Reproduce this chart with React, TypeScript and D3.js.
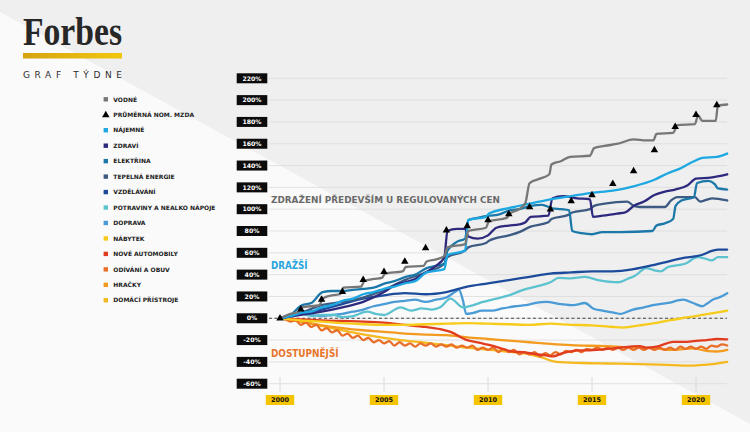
import * as d3 from "d3";

type Pt = [number, number];

// axis ticks
const yTicks = [220, 200, 180, 160, 140, 120, 100, 80, 60, 40, 20, 0, -20, -40, -60];
const xTicks = [2000, 2005, 2010, 2015, 2020];

// average nominal wage (triangles), yearly
const wageYears = [2000, 2001, 2002, 2003, 2004, 2005, 2006, 2007, 2008, 2009, 2010, 2011, 2012, 2013, 2014, 2015, 2016, 2017, 2018, 2019, 2020, 2021];
const wageValues = [0, 8.1, 17.1, 24.2, 35.2, 42.5, 51.9, 64.3, 80.6, 84.5, 90, 95.5, 101.9, 99.8, 107.4, 112.9, 123.3, 135, 154.2, 175.6, 186.6, 195.5];

// price indices, % change vs 2000
const vodne: Pt[] = [
  [2000, 0], [2000.5, 4], [2000.9, 6], [2001.05, 10], [2001.9, 12], [2002.05, 18], [2002.5, 21], [2002.9, 22],
  [2003.05, 28], [2003.9, 29], [2004.05, 34], [2004.5, 36], [2004.9, 37], [2005.05, 41], [2005.9, 43],
  [2006.05, 47], [2006.9, 48], [2007.05, 52], [2007.5, 54], [2007.9, 57], [2008.05, 65], [2008.9, 68],
  [2009.05, 80], [2009.9, 83], [2010.05, 89], [2010.9, 92], [2011.05, 96], [2011.5, 100], [2011.8, 106],
  [2012.0, 124], [2012.5, 128], [2012.95, 132], [2013.05, 141], [2013.5, 144], [2013.95, 148], [2014.9, 149],
  [2015.1, 156], [2015.6, 158], [2016.25, 160], [2017.0, 164], [2017.6, 163], [2017.95, 163], [2018.1, 169],
  [2018.9, 170], [2019.1, 177], [2019.95, 178], [2020.1, 186], [2020.3, 181], [2020.95, 181], [2021.05, 195], [2021.5, 196],
];
const najemne: Pt[] = [
  [2000, 0], [2000.5, 2], [2001, 5], [2001.5, 6], [2002, 10], [2002.5, 12], [2003, 16], [2003.5, 18], [2004, 22],
  [2004.5, 24], [2005, 27], [2005.5, 29], [2006, 32], [2006.5, 34], [2007.05, 42], [2007.9, 45], [2008.05, 58],
  [2008.9, 62], [2009.05, 90], [2009.9, 93], [2010.05, 96], [2011, 101], [2012, 105], [2013, 109], [2014, 112],
  [2015, 115], [2016, 117], [2017, 121], [2018, 127], [2018.65, 133], [2019.2, 137], [2019.8, 143], [2020.3, 147],
  [2021.0, 148], [2021.5, 151],
];
const zdravi: Pt[] = [
  [2000, 0], [2001, 3], [2002, 6], [2003, 10], [2004, 15], [2005, 24], [2005.5, 30], [2006, 33], [2006.5, 36],
  [2007, 42], [2007.5, 48], [2007.9, 56], [2008.05, 80], [2008.5, 82], [2008.9, 82], [2009.05, 75], [2009.5, 73],
  [2010, 76], [2010.4, 83], [2011, 85], [2011.5, 86], [2011.8, 88], [2012.05, 93], [2012.9, 94], [2013.1, 110],
  [2013.6, 112], [2014.3, 110], [2014.9, 109], [2015.05, 93], [2015.5, 94], [2016.2, 96], [2016.6, 97], [2017.0, 103],
  [2017.5, 107], [2018.0, 113], [2018.5, 116], [2019.0, 118], [2019.6, 122], [2020.0, 128], [2020.7, 129], [2021.5, 132],
];
const elektrina: Pt[] = [
  [2000, 0], [2000.5, 3], [2001.05, 12], [2001.5, 14], [2002.05, 24], [2002.5, 25], [2003, 25], [2003.5, 26],
  [2004, 27], [2004.5, 28], [2005.05, 32], [2005.5, 34], [2006.05, 38], [2006.5, 40], [2007.05, 46], [2007.5, 48],
  [2007.9, 50], [2008.05, 62], [2008.5, 70], [2008.9, 73], [2009.05, 90], [2009.5, 92], [2010.05, 94], [2010.5, 95],
  [2011.05, 99], [2011.5, 100], [2012.05, 103], [2012.6, 104], [2013.05, 101], [2013.5, 100], [2013.9, 99],
  [2014.05, 80], [2014.5, 78], [2015, 77], [2015.5, 79], [2016.35, 79], [2017.9, 80], [2018.1, 85], [2018.5, 87],
  [2018.9, 91], [2019.02, 103], [2019.3, 108], [2019.9, 111], [2020.05, 124], [2020.6, 126], [2020.9, 123],
  [2021.06, 119], [2021.5, 118],
];
const tepelna: Pt[] = [
  [2000, 0], [2001, 5], [2002, 12], [2003, 15], [2004, 19], [2005, 26], [2006, 35], [2007, 42], [2007.9, 50],
  [2008.05, 56], [2008.9, 62], [2009.05, 65], [2009.9, 69], [2010.05, 71], [2011, 76], [2011.5, 79], [2012.05, 84],
  [2012.9, 88], [2013.05, 91], [2013.9, 95], [2014.05, 97], [2014.9, 100], [2015.1, 103], [2015.6, 105],
  [2016.7, 107], [2017.0, 103], [2017.3, 102], [2018.5, 102], [2018.8, 108], [2019.1, 111], [2019.95, 111],
  [2020.2, 107], [2020.77, 110], [2021.5, 108],
];
const vzdelavani: Pt[] = [
  [2000, 0], [2001, 4], [2002, 8], [2003, 13], [2004, 18], [2005, 21], [2006, 23], [2007, 22], [2008, 24],
  [2009, 29], [2010, 32], [2011, 35], [2012, 38], [2013, 41], [2014, 42], [2015, 43], [2016, 43], [2017, 45],
  [2018, 49], [2018.65, 52], [2019.3, 55], [2020.27, 58], [2020.8, 62], [2021.06, 63], [2021.5, 63],
];
const potraviny: Pt[] = [
  [2000, 0], [2000.5, 3], [2001, 4], [2001.5, 2], [2002, 3], [2002.6, 3], [2003, 1], [2003.5, 2], [2004.2, 6],
  [2004.6, 4], [2005, 3], [2005.8, 10], [2006.3, 7], [2006.8, 9], [2007.3, 8], [2007.7, 10], [2008.2, 18],
  [2008.8, 10], [2009.3, 12], [2009.76, 15], [2010.4, 18], [2011, 21], [2011.7, 26], [2012.3, 29], [2013, 33],
  [2013.4, 37], [2013.94, 36.5], [2014.66, 38], [2015.3, 35], [2016.25, 33], [2016.7, 36], [2017.07, 39],
  [2017.6, 46], [2018.0, 44], [2018.3, 43], [2018.65, 47], [2019.47, 50], [2020.1, 56], [2020.4, 55],
  [2020.75, 53], [2021.06, 56], [2021.5, 56],
];
const doprava: Pt[] = [
  [2000, 0], [2000.5, 3], [2001, 5], [2001.5, 3], [2002, 2], [2002.5, 3], [2003, 4], [2003.5, 6], [2004, 8],
  [2004.5, 11], [2005, 13], [2005.5, 15], [2006, 16], [2006.5, 17], [2007, 15], [2007.5, 17], [2008, 19],
  [2008.4, 24], [2008.6, 26], [2008.8, 16], [2008.95, 4], [2009.3, 5], [2009.7, 7], [2010.2, 7], [2010.7, 9],
  [2011.3, 11], [2011.8, 12], [2012.3, 14], [2012.8, 15], [2013.5, 13], [2014.1, 12], [2014.66, 14], [2015.05, 9],
  [2015.5, 7], [2016.1, 5], [2016.35, 4], [2016.97, 8], [2017.5, 10], [2017.93, 12], [2018.65, 14], [2019.38, 17],
  [2019.86, 14], [2020.3, 11], [2020.5, 13], [2020.8, 17], [2021.1, 19], [2021.5, 23],
];
const nabytek: Pt[] = [
  [2000, 0], [2000.5, -1], [2001, -2], [2002, -3], [2003, -4.5], [2004, -5.5], [2005, -6], [2006, -6],
  [2007, -5.5], [2008, -5], [2009, -4.5], [2010, -5], [2011, -5.5], [2012, -6], [2013, -5], [2014, -6],
  [2015, -6.5], [2016, -8], [2016.5, -8.5], [2017.3, -6.5], [2018, -4.5], [2018.7, -2], [2019.3, 0], [2020, 2],
  [2020.6, 4], [2021.5, 7],
];
const automobily: Pt[] = [
  [2000, 0], [2001, -1], [2002, -2], [2003, -2.5], [2004, -3], [2005, -4], [2006, -6], [2007, -8],
  [2007.7, -10], [2008.2, -12.5], [2009, -20], [2009.5, -22], [2010.1, -24.7], [2010.7, -28], [2011.2, -30.5],
  [2011.7, -31], [2012.3, -33], [2012.8, -34], [2013.1, -35], [2013.6, -32], [2014.4, -29.5], [2014.9, -29.4],
  [2016, -27.7], [2017.3, -25.5], [2017.6, -27], [2018.1, -26], [2018.6, -23], [2018.9, -21.6], [2019.55, -21.6],
  [2020.1, -20.5], [2020.5, -20], [2021, -19], [2021.5, -19.4],
];
// clothing, quarterly from 2000 Q1 (seasonal sales make it wavy)
const odivaniQuarterly = [
  0, -1, -3, -2, -6, -4, -8, -6, -11, -9, -13, -11, -16, -14, -18, -16, -20, -18, -22, -20,
  -23, -21, -25, -22, -25, -23, -26, -23, -25, -23, -26, -24, -26, -24, -27, -25, -27, -25, -29, -27,
  -29, -27, -31, -28, -31, -29, -33, -31, -33, -31, -35, -32, -34, -31, -33, -30, -31, -29, -31, -28,
  -29, -27, -29, -27, -29, -27, -29, -27, -29, -27, -29, -27, -29, -27, -29, -27, -29, -26, -28, -26,
  -28, -26, -28, -25, -26, -24, -25,
];
const hracky: Pt[] = [
  [2000, 0], [2001, -3], [2002, -6.5], [2003, -9], [2004, -11], [2005, -12.5], [2006, -14], [2007, -15],
  [2008, -15.5], [2009, -17.5], [2010, -19], [2011, -20.5], [2012, -22], [2013, -23.5], [2014, -24.7],
  [2015.7, -25.6], [2017, -27], [2018, -27.5], [2018.9, -29], [2019.5, -28], [2019.9, -27.7], [2020.5, -30],
  [2021, -30.5], [2021.5, -29],
];
const domaci: Pt[] = [
  [2000, 0], [2001, -3], [2002, -7], [2002.6, -9.4], [2003.5, -13], [2004.2, -15.5], [2005, -18], [2005.8, -20],
  [2006.8, -22], [2007.7, -24], [2009, -27], [2010.1, -29], [2011.2, -31], [2012, -33], [2012.5, -35.4],
  [2013.3, -40], [2014.5, -41], [2015.7, -41.5], [2017.3, -42], [2018.9, -43], [2019.8, -43.5], [2020.5, -42.5],
  [2021, -41.5], [2021.5, -40],
];

const legendNames = [
  "VODNÉ", "PRŮMĚRNÁ NOM. MZDA", "NÁJEMNÉ", "ZDRAVÍ", "ELEKTŘINA", "TEPELNÁ ENERGIE", "VZDĚLÁVÁNÍ",
  "POTRAVINY A NEALKO NÁPOJE", "DOPRAVA", "NÁBYTEK", "NOVÉ AUTOMOBILY", "ODÍVÁNÍ A OBUV", "HRAČKY", "DOMÁCÍ PŘÍSTROJE",
];
const legendColors = [
  "#777777", "#000000", "#1ea8e2", "#2d2a7e", "#1b78a9", "#3c5a82", "#1d4b9b",
  "#5cc2cf", "#4a9bd6", "#f7cb1c", "#e23c1e", "#e96f29", "#f29b1f", "#f5b920",
];

const odivani: Pt[] = odivaniQuarterly.map((v, i) => [2000 + i * 0.25, v] as Pt);
// same order as legend, without the wage (index 1)
const seriesData: Pt[][] = [
  vodne, [], najemne, zdravi, elektrina, tepelna, vzdelavani, potraviny, doprava, nabytek, automobily, odivani, hracky, domaci,
];

const W = 750;
const H = 432;
const plotLeft = 269;
const plotRight = 727;
const sans = "'DejaVu Sans', sans-serif";

export default function App() {
  const x = d3.scaleLinear().domain([2000, 2020]).range([280, 696]);
  const y = d3.scaleLinear().domain([-60, 220]).range([383.7, 78.3]);

  const line = d3
    .line<Pt>()
    .x((d) => x(d[0]))
    .y((d) => y(d[1]))
    .curve(d3.curveMonotoneX);

  const tri = d3.symbol(d3.symbolTriangle, 24)() ?? "";

  // draw order: last legend entry first so that VODNÉ sits on top
  const drawOrder = d3.range(legendNames.length).filter((i) => i !== 1).reverse();

  return (
    <svg width={W} height={H} style={{ position: "absolute", left: 0, top: 0 }} fontFamily={sans}>
      <defs>
        <linearGradient id="goldBar" x1="0" x2="1" y1="0" y2="0">
          <stop offset="0%" stopColor="#d6a312" />
          <stop offset="100%" stopColor="#f3c70e" />
        </linearGradient>
      </defs>

      {/* background */}
      <rect width={W} height={H} fill="#efefef" />
      <polygon points={`0,12 ${W},424 ${W},${H} 0,${H}`} fill="#fafafa" />

      {/* header */}
      <text
        x={23}
        y={44.5}
        fontFamily="'Liberation Serif', 'DejaVu Serif', serif"
        fontWeight="bold"
        fontSize={39}
        fill="#272727"
        textLength={99}
        lengthAdjust="spacingAndGlyphs"
      >
        Forbes
      </text>
      <rect x={23} y={53} width={99} height={5.5} fill="url(#goldBar)" />
      <text x={23} y={77.5} fontSize={9} fill="#2e2e2e" textLength={99} lengthAdjust="spacing">
        GRAF TÝDNE
      </text>

      {/* legend */}
      {legendNames.map((name, i) => {
        const ly = 99.3 + i * 15.46;
        return (
          <g key={name}>
            {i === 1 ? (
              <path d={tri} transform={`translate(105.8,${ly + 0.4})`} fill="#000" />
            ) : (
              <rect x={103.6} y={ly - 2.2} width={4.4} height={4.4} fill={legendColors[i]} />
            )}
            <text x={113.3} y={ly + 2.2} fontSize={6} fontWeight="bold" fill="#222">
              {name}
            </text>
          </g>
        );
      })}

      {/* grid */}
      {yTicks.map((t) => (
        <line key={`g${t}`} x1={plotLeft} x2={plotRight} y1={y(t)} y2={y(t)} stroke="#dadada" strokeWidth={0.8} />
      ))}
      {xTicks.map((t) => (
        <line key={`t${t}`} x1={x(t)} x2={x(t)} y1={377} y2={392} stroke="#d3d3d3" strokeWidth={0.8} />
      ))}

      {/* annotations */}
      <text x={271} y={203.3} fontSize={9.2} fontWeight="bold" fill="#6a6a6a" textLength={229} lengthAdjust="spacingAndGlyphs">
        ZDRAŽENÍ PŘEDEVŠÍM U REGULOVANÝCH CEN
      </text>
      <text x={271} y={269.3} fontSize={9.6} fontWeight="bold" fill="#2aa5dc" textLength={36.6} lengthAdjust="spacingAndGlyphs">
        DRAŽŠÍ
      </text>
      <text x={271} y={356.7} fontSize={9.6} fontWeight="bold" fill="#e8762d" textLength={67.6} lengthAdjust="spacingAndGlyphs">
        DOSTUPNĚJŠÍ
      </text>

      {/* zero line */}
      <line x1={plotLeft} x2={plotRight} y1={y(0)} y2={y(0)} stroke="#333" strokeWidth={0.9} strokeDasharray="3 2.5" />

      {/* series */}
      {drawOrder.map((i) => (
        <path
          key={legendNames[i]}
          d={line(seriesData[i]) ?? ""}
          fill="none"
          stroke={legendColors[i]}
          strokeWidth={2.3}
          strokeLinejoin="round"
          strokeLinecap="round"
        />
      ))}

      {/* wage triangles */}
      {wageYears.map((yr, i) => (
        <path key={`w${yr}`} d={tri} transform={`translate(${x(yr)},${y(wageValues[i])})`} fill="#000" />
      ))}

      {/* y axis labels */}
      {yTicks.map((t) => (
        <g key={`yl${t}`} transform={`translate(236.7,${y(t)})`}>
          <rect x={0} y={-5} width={30.6} height={10} fill="#0b0b0b" />
          <text x={15.3} y={2.2} textAnchor="middle" fontSize={6.2} fontWeight="bold" fill="#fff">
            {`${t}%`}
          </text>
        </g>
      ))}

      {/* x axis labels */}
      {xTicks.map((t) => (
        <g key={`xl${t}`} transform={`translate(${x(t)},400)`}>
          <rect x={-14.2} y={-5} width={28.4} height={10} fill="#f5c400" />
          <text x={0} y={2.3} textAnchor="middle" fontSize={6.5} fontWeight="bold" fill="#111">
            {t}
          </text>
        </g>
      ))}
    </svg>
  );
}
